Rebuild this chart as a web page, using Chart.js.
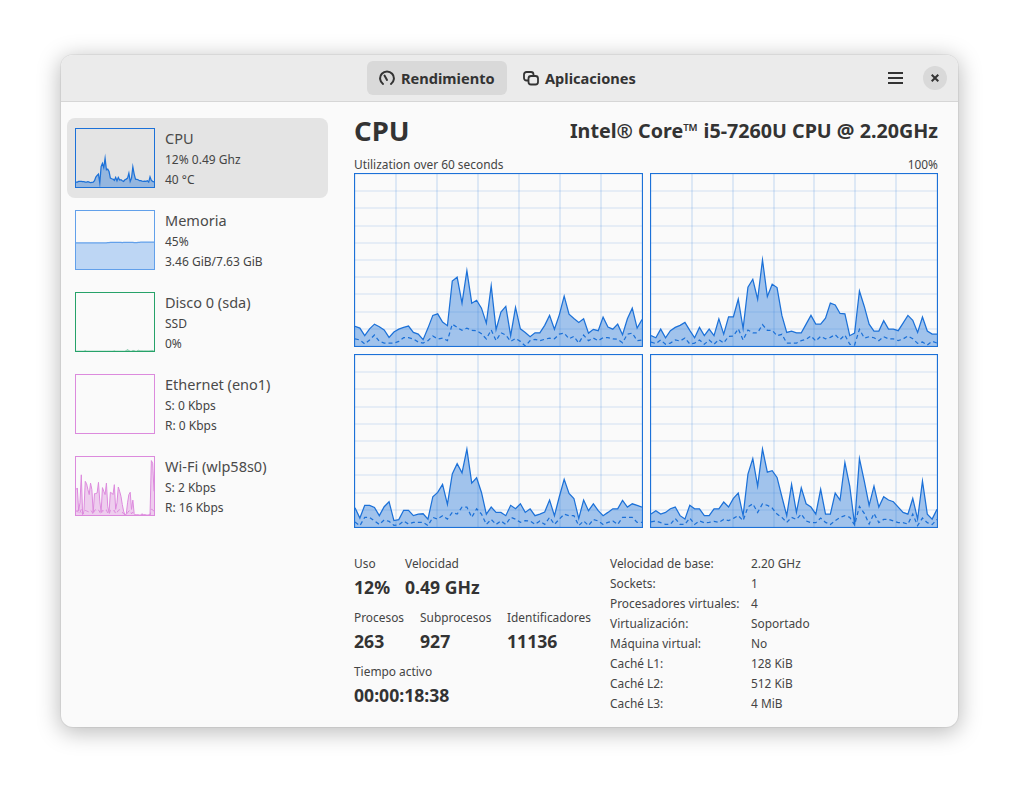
<!DOCTYPE html>
<html lang="es"><head><meta charset="utf-8"><title>Rendimiento</title>
<script src="https://cdn.jsdelivr.net/npm/chart.js@4"></script>
<style>
html,body{margin:0;padding:0;background:#fff;width:1019px;height:794px;overflow:hidden;font-family:"Noto Sans",sans-serif;color:#3a3a3a}
#win{position:absolute;left:61px;top:55px;width:897px;height:672px;background:#fafafa;border-radius:12px;box-shadow:0 4px 22px 2px rgba(0,0,0,.26),0 0 0 1px rgba(0,0,0,.05)}
#head{position:absolute;left:61px;top:55px;width:897px;height:46px;background:#ebebeb;border-radius:12px 12px 0 0;border-bottom:1px solid #d6d6d6}
#tab{position:absolute;left:367px;top:61px;width:140px;height:34px;background:#d9d9d9;border-radius:6px}
#sel{position:absolute;left:67px;top:118px;width:261px;height:80px;background:#e4e4e4;border-radius:8px}
#closebg{position:absolute;left:923px;top:66px;width:24px;height:24px;background:#d9d9d9;border-radius:50%}
.t{position:absolute;line-height:20px;height:20px;white-space:nowrap;font-size:12px;color:#444}
.side{font-size:14.5px;color:#4a4a4a}
.b{font-weight:700;color:#333}
.f{position:absolute;box-sizing:border-box;border:1px solid #1c71d8}
.f canvas{display:block;position:absolute;left:0;top:0}
svg{position:absolute}
</style></head><body>
<div id="win"></div><div id="head"></div><div id="tab"></div><div id="sel"></div><div id="closebg"></div>
<svg style="left:379px;top:70px" width="16" height="16" viewBox="0 0 16 16" fill="none" stroke="#333" stroke-width="2"><path d="M4 14A6.9 6.9 0 1 1 12 14" stroke-linecap="round"/><path d="M5.5 5.5L8 10" stroke-linecap="round"/></svg>
<svg style="left:523px;top:71px" width="16" height="15" viewBox="0 0 16 15" fill="none" stroke="#333" stroke-width="1.8"><rect x="1" y="1" width="9.5" height="8.5" rx="2.5"/><rect x="5.5" y="5" width="9.5" height="8.5" rx="2.5" fill="#ebebeb"/></svg>
<svg style="left:888px;top:71px" width="15" height="14" viewBox="0 0 15 14" stroke="#333" stroke-width="1.8"><path d="M0 2H15M0 7H15M0 12H15"/></svg>
<svg style="left:931px;top:74px" width="8" height="8" viewBox="0 0 8 8" stroke="#333" stroke-width="2"><path d="M.7 .7L7.3 7.3M7.3 .7L.7 7.3"/></svg>
<div id="texts"></div>
<div id="frames"></div>
<script>
const seconds=[...Array(60).keys()];
const gridSeconds=[0,59/7,118/7,177/7,236/7,295/7,354/7,59];
const gridPercent=[0,10,20,30,40,50,60,70,80,90,100];

const core1User=[11.4,10.4,6,10,12.7,11.2,9.3,5,8.1,9.8,10.8,11.6,7.9,6.9,3.7,10.4,17.8,18.7,13.9,11.8,37.8,40,24.9,43.8,24.9,26.6,22,13.3,35.1,9.5,19.7,23,6,22.4,10,7.9,5.4,7.7,7.7,12,17.8,9.7,18.1,29,18.5,16,13.7,15.8,7.5,9.7,8.9,16.8,11,9.8,12.7,6.6,15.8,22,10.4,15.4];
const core1Kernel=[4.2,3.5,1.2,3.5,6.4,2.7,1.7,1.7,1.7,2.7,4.8,4.8,4.1,2.3,1.7,3.1,5.8,4.1,4.6,3.1,12.7,10.8,9.1,10.4,9.1,8.9,7.1,4.1,9.3,3.1,7.7,6.4,2.7,4.4,2.7,0,3.1,3.9,3.1,3.9,4.6,4.2,6.9,7.5,4.2,5.6,1.7,6.4,3.1,4.6,3.1,4.8,4.8,4.1,3.9,1.9,6.9,7.5,3.1,3.5];
const core2User=[6,4.8,9.8,4.8,8.9,10.8,12,13.7,9.1,4.8,10.8,6,9.8,6,15.8,6.9,17,17,27.2,10.2,34.2,38.8,27.2,50,28.8,35.9,34,17.8,7.9,8.7,7.7,7.7,12.7,17.8,12.7,12.7,16.2,24.9,23.9,18.9,18.7,6,7.5,32,23,12.7,8.7,8.7,14.7,9.8,9.8,8.9,13.3,17.8,14.9,7.9,16.8,8.7,6.9,6.9];
const core2Kernel=[2.3,1.4,3.5,1,1.7,3.5,2.9,4.6,1.2,1.7,3.5,1,3.5,1,3.7,1.7,5.6,5.8,10,3.5,9.3,7.7,7.7,12.4,9.1,9.1,6,6.8,1.7,1.7,1.7,3.1,3.9,5.8,2.9,5.6,4.2,5,6.6,3.7,6.4,1,.6,9.7,4.6,5.4,4.8,3.1,5.4,4.2,4.1,3.1,4.1,5.8,4.2,1.5,2.3,.6,2.7,1.7];
const core3User=[11.2,5.2,12.6,12.6,11.4,6.6,11.8,14.7,3.7,4.3,9.7,9.7,6.6,7.5,7.7,4.6,17.6,20.1,24.8,13.2,30.8,36.8,31.5,45.3,25.5,28.6,20.1,7.5,11.6,8.5,8.5,6.6,12.6,10.6,13.5,8.5,10.6,6.6,7.5,8.7,15.7,6.6,17.6,27.7,19.5,16.6,5,15.7,9.5,13.5,9.5,6.6,8.5,10.6,10.6,15.5,11.6,13.5,12.6,11.6];
const core3Kernel=[2.9,.8,5.6,5.6,3.5,1.5,4.1,3.3,1,1.2,3.5,1.7,2.7,2.7,2.7,.8,5.6,4.6,6.6,4.6,8.5,7.5,11.6,11.6,5.6,10.6,7.5,1.5,4.4,1.5,3.5,1.5,5.6,4.6,2.7,3.7,3.5,1.5,3.5,1.5,5.6,1.5,4.6,7.5,6.6,6.6,.8,3.5,.8,4.4,3.5,1.5,2.7,3.5,1.5,5.6,5.6,5.6,2.7,2.7];
const core4User=[7.5,9.5,7.5,8.5,10.6,11.6,6.6,4.6,12.6,10.6,10.6,6.6,6.6,10.6,10.6,14.5,11.6,16.6,19.7,6.6,30.8,39.8,23.8,45.3,31.9,32.7,28.8,17.6,6.6,24.8,8.5,22.8,13.5,11.6,7.5,21.9,7.5,7.5,19.7,15.7,37.5,23.8,1.5,39.8,26.7,12.6,23.8,11.6,17.6,15.7,14.7,11.6,8.5,7.5,16.6,4.6,26.7,7.5,4.6,10.3];
const core4Kernel=[2.9,3.5,2.5,1.5,1.5,5,1.5,1.5,5.2,1.5,3.5,2.5,2.7,3.3,2.7,4.4,3.7,5,6.6,3.7,11.6,13.5,8.5,13.5,12.6,11,7.5,5.6,2.7,5.6,4.4,7.5,3.5,2.5,2.5,5.2,2.7,1.4,3.7,5.6,6.6,5.6,1.2,12,7.9,1.7,7.9,2.5,4.4,4.4,3.5,2.5,2.5,1.7,7.5,.8,5.2,2.5,1.4,4.4];

const sideCpu=[8.5,8.5,9.7,9.7,9.7,9.1,9.1,8.5,8.5,9.1,8.5,7.4,8,8.5,10.8,17,19.9,22.2,6.8,35.2,40.9,33.5,49.4,29.5,30.7,26.7,15.3,14.2,13.6,11.4,16.5,10.8,16.5,11.9,12.5,10.8,9.7,12.5,13.6,15.3,23.9,9.7,15.3,34.7,22.2,13.6,13.1,12.5,10.8,10.8,10.2,9.7,10.2,9.7,10.8,8.5,17.6,11.4,9.7,8.5];
const sideMemory=[45,45,45,45,45,45,45,45,45,45,45,45,45,45,45,45,45,45,45,45,45,45,45,45.2,45.4,45.6,45.8,46,46,46,46,46,46,46,45.8,45.6,45.8,46,46,45.8,46,46,45.8,46,45.6,45.6,45.6,46,46,46.2,46.4,46.4,46.4,46.4,46.4,46.4,46.4,46.4,46.4,46.4];
const sideDisk=[0,0,0,0,0,0,0,.8,0,0,0,0,0,0,0,0,0,0,0,0,0,0,0,0,0,0,0,0,0,.6,0,0,0,0,0,0,0,0,1,2.5,1,0,0,1,.8,0,0,1.5,.8,.5,.6,.4,.5,.4,.4,.4,.5,1,.8,0];
const sideEthernet=seconds.map(()=>0);
const sideWifiRx=[43.8,46.6,6.8,21,69.3,1.1,6.8,58,54,43.8,35.2,55,43.8,4,36.9,36.9,38,56.3,23.9,5.1,47.2,40.9,35.2,55,15.3,4,39.2,38,35.2,52.3,9.7,21,48.3,40.9,32.4,18.2,6.8,0,1.1,21,35.2,39.2,9.7,25.6,2.3,0,0,0,0,0,2.3,0,.6,0,0,0,0,93.8,89.2,40.9];
const sideWifiTx=[6,8,2,4,10,1,3,8,7,6,5,8,6,1,8,9,7,9,5,1,8,7,6,9,3,1,8,9,7,8,2,4,8,9,7,5,2,0,0,4,7,8,2,5,1,0,0,0,0,0,1,0,0,0,0,0,0,10,9,6];

const tabs=[["Rendimiento",401,78],["Aplicaciones",545,78]];
const sideRows=[["CPU","12% 0.49 Ghz","40 °C"],["Memoria","45%","3.46 GiB/7.63 GiB"],["Disco 0 (sda)","SSD","0%"],["Ethernet (eno1)","S: 0 Kbps","R: 0 Kbps"],["Wi-Fi (wlp58s0)","S: 2 Kbps","R: 16 Kbps"]];
const stats=[["Uso","12%",354,563],["Velocidad","0.49 GHz",405,563],["Procesos","263",354,617],["Subprocesos","927",420,617],["Identificadores","11136",507,617],["Tiempo activo","00:00:18:38",354,671]];
const specNames=["Velocidad de base:","Sockets:","Procesadores virtuales:","Virtualización:","Máquina virtual:","Caché L1:","Caché L2:","Caché L3:"];
const specValues=["2.20 GHz","1","4","Soportado","No","128 KiB","512 KiB","4 MiB"];

const box=document.getElementById('texts');
function put(text,x,cy,size,cls,right){
  const e=document.createElement('div');e.className='t '+(cls||'');e.textContent=text;
  e.style.top=(cy-10)+'px';
  if(right!==undefined){e.style.right=(1019-right)+'px'}else{e.style.left=x+'px'}
  if(size)e.style.fontSize=size+'px';
  box.appendChild(e);
}
tabs.forEach(t=>put(t[0],t[1],t[2],14.6,'b'));
put("CPU",354,131,27.5,'b');
put("Intel® Core™ i5-7260U CPU @ 2.20GHz",0,131,19.7,'b',938);
put("Utilization over 60 seconds",354,164,11.9);
put("100%",0,164,11.9,'',938);
sideRows.forEach((r,i)=>{const y=138+82*i;put(r[0],165,y,14.5,'side');put(r[1],165,y+22,12);put(r[2],165,y+42,12);});
stats.forEach(s=>{put(s[0],s[2],s[3],11.9);put(s[1],s[2],s[3]+24,17.6,'b');});
specNames.forEach((n,i)=>{put(n,610,563+20*i,11.9);put(specValues[i],751,563+20*i,11.9);});

const frames=document.getElementById('frames');
function chart(x,y,w,h,color,fillAlpha,series,grid,lineW){
  const f=document.createElement('div');f.className='f';
  f.style.cssText=`left:${x}px;top:${y}px;width:${w}px;height:${h}px;border-color:${color}`;
  const c=document.createElement('canvas');c.width=w-2;c.height=h-2;c.style.width=(w-2)+'px';c.style.height=(h-2)+'px';
  f.appendChild(c);frames.appendChild(f);
  const rgb=parseInt(color.slice(1),16);
  const fill=`rgba(${rgb>>16},${(rgb>>8)&255},${rgb&255},${fillAlpha})`;
  const gridV=`rgba(${rgb>>16},${(rgb>>8)&255},${rgb&255},.13)`;
  const gridH=`rgba(${rgb>>16},${(rgb>>8)&255},${rgb&255},.09)`;
  new Chart(c,{type:'line',
    data:{datasets:series.map((s,i)=>({label:s.name,data:seconds.map((t,k)=>({x:t,y:s.values[k]})),
      borderColor:color,borderWidth:lineW,borderDash:s.dash||[],pointRadius:0,tension:0,
      backgroundColor:fill,fill:s.fill?'origin':false}))},
    options:{responsive:false,animation:false,devicePixelRatio:1,events:[],
      layout:{padding:0},
      plugins:{legend:{display:false},tooltip:{enabled:false}},
      scales:{
        x:{type:'linear',min:0,max:59,border:{display:false},
           afterBuildTicks:a=>{a.ticks=(grid?gridSeconds:[]).map(v=>({value:v}))},
           grid:{display:grid,color:gridV,lineWidth:2,drawTicks:false},ticks:{display:false}},
        y:{type:'linear',min:0,max:100,border:{display:false},
           afterBuildTicks:a=>{a.ticks=(grid?gridPercent:[]).map(v=>({value:v}))},
           grid:{display:grid,color:gridH,lineWidth:2,drawTicks:false},ticks:{display:false}}
      }}});
}
const blue='#1c71d8';
const corePanels=[[354,173,289,174,core1User,core1Kernel],[650,173,288,174,core2User,core2Kernel],[354,354,289,174,core3User,core3Kernel],[650,354,288,174,core4User,core4Kernel]];
corePanels.forEach(p=>chart(p[0],p[1],p[2],p[3],blue,.4,[{name:'Total',values:p[4],fill:true},{name:'Kernel',values:p[5],dash:[4,3]}],true,1.25));
chart(75,128,80,60,blue,.4,[{name:'CPU',values:sideCpu,fill:true}],false,1.25);
chart(75,210,80,60,'#62a0ea',.4,[{name:'Memoria',values:sideMemory,fill:true}],false,1.25);
chart(75,292,80,60,'#26a269',.4,[{name:'Disco',values:sideDisk,fill:true}],false,.4);
chart(75,374,80,60,'#dc8add',.4,[{name:'Ethernet',values:sideEthernet,fill:true}],false,0);
chart(75,456,80,60,'#dc8add',.4,[{name:'Recibido',values:sideWifiRx,fill:true},{name:'Enviado',values:sideWifiTx,dash:[4,3]}],false,1);
</script>
</body></html>
